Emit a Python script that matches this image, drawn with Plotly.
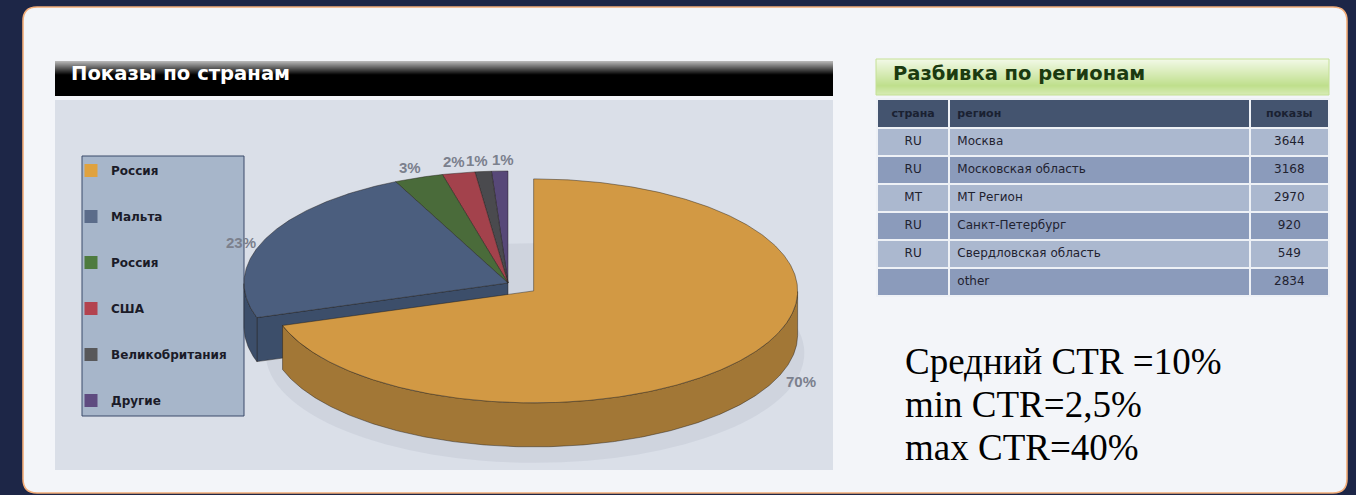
import numpy as np
import plotly.graph_objects as go

# ---------------- data ----------------
countries = ["Россия", "Мальта", "Россия", "США", "Великобритания", "Другие"]
shares = [70, 23, 3, 2, 1, 1]
slice_labels = ["70%", "23%", "3%", "2%", "1%", "1%"]
exploded = [1, 0, 0, 0, 0, 0]

table_header = ["страна", "регион", "показы"]
table_country = ["RU", "RU", "MT", "RU", "RU", ""]
table_region = ["Москва", "Московская область", "MT Регион", "Санкт-Петербург",
                "Свердловская область", "other"]
table_views = [3644, 3168, 2970, 920, 549, 2834]

ctr_lines = ["Средний CTR =10%", "min CTR=2,5%", "max CTR=40%"]
chart_title = "Показы по странам"
table_title = "Разбивка по регионам"

# ---------------- styles ----------------
top_colors = ["#d29944", "#4b5e7e", "#4a6b3a", "#a3424c", "#4a4a4e", "#574878"]
side_colors = ["#a27736", "#3c4e6a", "#35502a", "#7a3038", "#363639", "#403559"]
legend_colors = ["#e0a23e", "#5b6c8a", "#4e7b3f", "#b3434f", "#58585a", "#5f4b80"]

W, H = 1356, 495
CX, CY, RX, RY, DEPTH = 508, 283, 264, 112, 44
EXPLODE = 0.12

fig = go.Figure()

# ---------------- background shapes ----------------
def rounded(x0, y0, x1, y1, r):
    return (f"M{x0+r},{y0} L{x1-r},{y0} Q{x1},{y0} {x1},{y0+r} L{x1},{y1-r} "
            f"Q{x1},{y1} {x1-r},{y1} L{x0+r},{y1} Q{x0},{y1} {x0},{y1-r} "
            f"L{x0},{y0+r} Q{x0},{y0} {x0+r},{y0} Z")

def hexmix(c1, c2, t):
    a = [int(c1[i:i+2], 16) for i in (1, 3, 5)]
    b = [int(c2[i:i+2], 16) for i in (1, 3, 5)]
    return "#" + "".join(f"{int(round(a[k] + (b[k]-a[k])*t)):02x}" for k in range(3))

shapes = []
shapes.append(dict(type="path", path=rounded(23, 7, 1347, 493, 14), xref="x", yref="y",
                   fillcolor="#f3f5f9", line=dict(color="#f3ad78", width=1.6), layer="below"))
# chart area
shapes.append(dict(type="rect", x0=55, x1=833, y0=100, y1=470, xref="x", yref="y",
                   fillcolor="#dadfe8", line=dict(width=0), layer="below"))
# black header with gradient top
shapes.append(dict(type="rect", x0=55, x1=833, y0=61, y1=96, xref="x", yref="y",
                   fillcolor="#000000", line=dict(width=0), layer="below"))
for i in range(14):
    shapes.append(dict(type="rect", x0=55, x1=833, y0=61 + i, y1=62 + i, xref="x", yref="y",
                       fillcolor=hexmix("#b4b4b4", "#050505", i / 13), line=dict(width=0),
                       layer="below"))
# green title bar
n_g = 36
for i in range(n_g):
    t = i / (n_g - 1)
    if t < 0.75:
        c = hexmix("#f2f9e6", "#bfdf8c", t / 0.75)
    else:
        c = hexmix("#bfdf8c", "#d6ebb4", (t - 0.75) / 0.25)
    shapes.append(dict(type="rect", x0=876, x1=1329, y0=59 + i, y1=60 + i, xref="x", yref="y",
                       fillcolor=c, line=dict(width=0), layer="below"))
shapes.append(dict(type="rect", x0=876, x1=1329, y0=59, y1=95, xref="x", yref="y",
                   fillcolor="rgba(0,0,0,0)", line=dict(color="#c4e095", width=1), layer="below"))
# legend box
shapes.append(dict(type="rect", x0=82, x1=244, y0=156, y1=416, xref="x", yref="y",
                   fillcolor="#a7b6ca", line=dict(color="#3b4b6a", width=1), layer="below"))
# pie shadow
shapes.append(dict(type="circle", x0=CX + 27 - RX * 1.02, x1=CX + 27 + RX * 1.02,
                   y0=CY + 70 - RY * 0.98, y1=CY + 70 + RY * 0.98, xref="x", yref="y",
                   fillcolor="rgba(150,158,175,0.16)", line=dict(width=0), layer="below"))

# ---------------- 3D pie ----------------
total = float(sum(shares))
bounds = np.cumsum([0] + shares) / total
a_start = 90 - 360 * bounds[:-1]
a_end = 90 - 360 * bounds[1:]
n = len(shares)

def rim(ox, oy, angs):
    t = np.radians(angs)
    return ox + RX * np.cos(t), oy - RY * np.sin(t)

def poly(xs, ys, fill, lc="rgba(30,25,20,0.55)"):
    fig.add_trace(go.Scatter(x=list(xs), y=list(ys), mode="lines", fill="toself",
                             fillcolor=fill, line=dict(color=lc, width=0.8),
                             hoverinfo="skip", showlegend=False))

mids = (a_start + a_end) / 2
order = sorted(range(n), key=lambda i: -np.sin(np.radians(mids[i])))
label_pos = {}
for i in order:
    a0, a1, mid = a_start[i], a_end[i], mids[i]
    off = EXPLODE * exploded[i]
    ox = CX + off * RX * np.cos(np.radians(mid))
    oy = CY - off * RY * np.sin(np.radians(mid))
    # radial cut faces
    if np.cos(np.radians(a0)) < -1e-6 and (exploded[i] or exploded[(i - 1) % n]):
        rx_, ry_ = rim(ox, oy, [a0])
        poly([ox, rx_[0], rx_[0], ox, ox], [oy, ry_[0], ry_[0] + DEPTH, oy + DEPTH, oy],
             side_colors[i])
    if np.cos(np.radians(a1)) > 1e-6 and (exploded[i] or exploded[(i + 1) % n]):
        rx_, ry_ = rim(ox, oy, [a1])
        poly([ox, rx_[0], rx_[0], ox, ox], [oy, ry_[0], ry_[0] + DEPTH, oy + DEPTH, oy],
             side_colors[i])
    # outer walls (front-facing part only)
    m = max(4, int(abs(a0 - a1) * 2))
    angs = np.linspace(a0, a1, m)
    vis = np.sin(np.radians(angs)) <= 1e-9
    runs, cur = [], []
    for k, v in enumerate(vis):
        if v:
            cur.append(angs[k])
        elif cur:
            runs.append(cur); cur = []
    if cur:
        runs.append(cur)
    for run in runs:
        if len(run) < 2:
            continue
        xs, ys = rim(ox, oy, np.array(run))
        poly(np.concatenate([xs, xs[::-1], xs[:1]]),
             np.concatenate([ys, ys[::-1] + DEPTH, ys[:1]]), side_colors[i])
    # top face
    xs, ys = rim(ox, oy, angs)
    poly(np.concatenate([[ox], xs, [ox]]), np.concatenate([[oy], ys, [oy]]), top_colors[i])
    # label position
    kf = 1.10 + 0.15 * exploded[i]
    s = np.sin(np.radians(mid))
    lx = ox + kf * RX * np.cos(np.radians(mid))
    ly = oy - kf * RY * s + (DEPTH * 0.2 if s < 0 else 0) + (8 if s < 0.5 else 0) * (1 - exploded[i])
    label_pos[i] = [lx, ly]

# keep neighbouring small labels from overlapping
MIN_GAP = 26
for i in range(n - 1):
    j = i + 1
    d = label_pos[j][0] - label_pos[i][0]
    if abs(label_pos[j][1] - label_pos[i][1]) < 14 and 0 <= d < MIN_GAP:
        sh = (MIN_GAP - d) / 2
        label_pos[i][0] -= sh
        label_pos[j][0] += sh

annotations = []
for i in range(n):
    annotations.append(dict(x=label_pos[i][0], y=label_pos[i][1], xref="x", yref="y",
                            text=slice_labels[i], showarrow=False,
                            font=dict(family="Liberation Sans", size=15,
                                      color="#7b808d", weight="bold")))

# legend entries
for i, name in enumerate(countries):
    fig.add_trace(go.Scatter(x=[None], y=[None], mode="markers", name=name,
                             legendgroup=f"g{i}",
                             marker=dict(symbol="square", size=13, color=legend_colors[i],
                                         line=dict(width=0))))

# ---------------- table ----------------
row_fill = ["#abb8cf" if r % 2 == 0 else "#8b9bbb" for r in range(len(table_region))]
fig.add_trace(go.Table(
    domain=dict(x=[877 / W, 1329 / W], y=[1 - 305 / H, 1 - 99 / H]),
    columnwidth=[72, 299, 79],
    header=dict(values=[f"<b>{h}</b>" for h in table_header],
                fill_color="#44546f", line=dict(color="#eef1f6", width=2),
                align=["center", "left", "center"], height=28,
                font=dict(family="DejaVu Sans", size=11, color="#1a2132")),
    cells=dict(values=[table_country, table_region, table_views],
               fill_color=[row_fill] * 3, line=dict(color="#eef1f6", width=2),
               align=["center", "left", "center"], height=28,
               font=dict(family="DejaVu Sans", size=12, color="#1f2230")),
))

# ---------------- texts ----------------
annotations.append(dict(x=69, y=73, xref="x", yref="y", xanchor="left", yanchor="middle",
                        text=chart_title, showarrow=False,
                        font=dict(family="DejaVu Sans", size=19.6, color="#ffffff",
                                  weight="bold")))
annotations.append(dict(x=891, y=73, xref="x", yref="y", xanchor="left", yanchor="middle",
                        text=table_title, showarrow=False,
                        font=dict(family="DejaVu Sans", size=19.5, color="#1b3a10",
                                  weight="bold")))
for j, line in enumerate(ctr_lines):
    annotations.append(dict(x=903, y=361 + 43 * j, xref="x", yref="y", xanchor="left",
                            yanchor="middle", text=line, showarrow=False,
                            font=dict(family="Liberation Serif", size=37, color="#000000")))

fig.update_layout(
    width=W, height=H, margin=dict(l=0, r=0, t=0, b=0),
    paper_bgcolor="#1d2647", plot_bgcolor="rgba(0,0,0,0)",
    xaxis=dict(range=[0, W], visible=False, fixedrange=True),
    yaxis=dict(range=[H, 0], visible=False, fixedrange=True),
    shapes=shapes, annotations=annotations,
    showlegend=True,
    legend=dict(x=71 / W, y=1 - 156 / H, xanchor="left", yanchor="top",
                bgcolor="rgba(0,0,0,0)", borderwidth=0, tracegroupgap=27,
                font=dict(family="DejaVu Sans", size=12, color="#1b1b28", weight="bold")),
)

fig.write_html("out.html", config={"displayModeBar": False},
               post_script="document.body.style.margin='0px';"
                           "document.body.style.background='#1d2647';")
